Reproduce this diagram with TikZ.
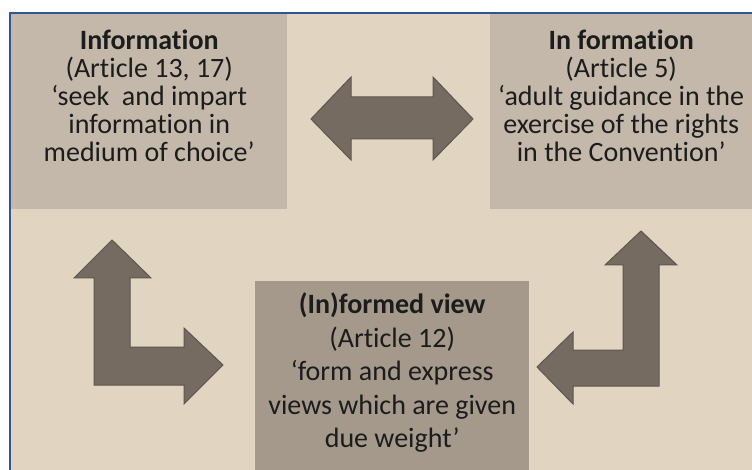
\documentclass[tikz,border=0pt]{standalone}
\usepackage{fontspec}
\setmainfont[Ligatures={NoCommon,NoRequired,NoContextual}]{Carlito}
\usetikzlibrary{positioning}

\definecolor{bgbeige}{HTML}{E1D4C1}
\definecolor{boxlight}{HTML}{C4B8AA}
\definecolor{boxdark}{HTML}{A5998B}
\definecolor{arrowgray}{HTML}{756B60}
\definecolor{arrowedge}{HTML}{5E564E}
\definecolor{borderblue}{HTML}{2F5597}
\definecolor{textgray}{HTML}{1C1C1C}

\begin{document}
\begin{tikzpicture}[x=1pt,y=-1pt]

\tikzset{box/.style = {draw=none, inner sep=0pt, anchor=north west}}
\tikzset{txt/.style = {align=center, text=textgray, inner sep=0pt, font=\fontsize{28}{28}\selectfont}}
\tikzset{blockarrow/.style = {fill=arrowgray, draw=arrowedge, line width=1pt, line join=miter}}

%frame
\useasboundingbox (0,0) rectangle (752,470);
\fill[bgbeige] (10,13) rectangle (752,470);
\draw[borderblue, line width=2.5pt] (10,470) -- (10,13) -- (752,13);

%boxes
\node[box, fill=boxlight, minimum width=276, minimum height=195,
  label={[txt, anchor=north, yshift=-16pt]north:{\textbf{Information}\\(Article 13, 17)\\‘seek~ and impart\\information in\\medium of choice’}}]
  (info) at (11,14) {};
\node[box, fill=boxlight, minimum width=262, minimum height=195,
  label={[txt, anchor=north, yshift=-16pt]north:{\textbf{In formation}\\(Article 5)\\‘adult guidance in the\\exercise of the rights\\in the Convention’}}]
  (inform) at (490,14) {};
\node[box, fill=boxdark, minimum width=274, minimum height=189,
  label={[txt, font=\fontsize{28}{33.5}\selectfont, anchor=north, yshift=-12pt]north:{\textbf{(In)formed view}\\(Article 12)\\‘form and express\\views which are given\\due weight’}}]
  (view) at (255,281) {};

%arrows
\draw[blockarrow] (311,119) -- (351,77) -- (351,97) -- (433,97) -- (433,77) -- (473,119)
  -- (433,160) -- (433,139) -- (351,139) -- (351,160) -- cycle;
\draw[blockarrow] (112,240) -- (151,278) -- (130,278) -- (130,347) -- (184,347) -- (184,328)
  -- (223,365) -- (184,404) -- (184,385) -- (94,385) -- (94,278) -- (74,278) -- cycle;
\draw[blockarrow] (641,231) -- (677,265) -- (659,265) -- (659,386) -- (573,386) -- (573,404)
  -- (537,367) -- (573,332) -- (573,350) -- (623,350) -- (623,265) -- (605,265) -- cycle;

\end{tikzpicture}
\end{document}
